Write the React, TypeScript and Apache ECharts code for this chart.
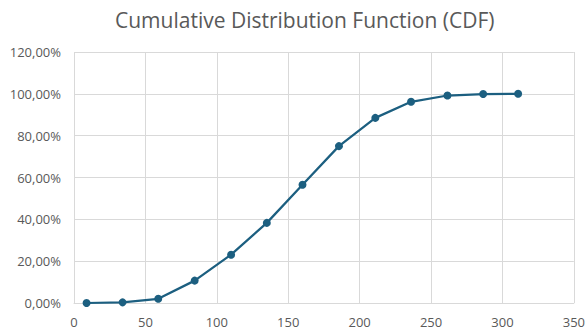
import React, { useEffect, useRef } from "react";
import * as echarts from "echarts";

const xValues = [8.8, 34, 59, 84.5, 110, 135, 160, 185.5, 211, 236, 261.5, 286.5, 311];
const cdfValues = [0.0, 0.003, 0.02, 0.107, 0.231, 0.383, 0.565, 0.75, 0.885, 0.962, 0.992, 0.999, 1.0];
const titleText = "Cumulative Distribution Function (CDF)";

export default function App() {
  const ref = useRef<HTMLDivElement>(null);
  useEffect(() => {
    const chart = echarts.init(ref.current!, undefined, { renderer: "svg" });
    const grid = "#d9d9d9";
    const txt = "#595959";
    chart.setOption({
      animation: false,
      title: {
        text: titleText,
        left: 110,
        top: 4,
        textStyle: { fontFamily: "Open Sans", fontSize: 21, fontWeight: "normal", color: txt },
      },
      grid: { left: 74, right: 12, top: 52, bottom: 29 },
      xAxis: {
        type: "value",
        min: 0,
        max: 350,
        interval: 50,
        axisLine: { show: true, lineStyle: { color: grid, width: 1 } },
        axisTick: { show: false },
        splitLine: { show: true, lineStyle: { color: grid, width: 1 } },
        axisLabel: { color: txt, fontFamily: "Open Sans", fontSize: 13, margin: 12 },
      },
      yAxis: {
        type: "value",
        min: 0,
        max: 1.2,
        interval: 0.2,
        axisLine: { show: false },
        axisTick: { show: false },
        splitLine: { show: true, lineStyle: { color: grid, width: 1 } },
        axisLabel: {
          color: txt,
          fontFamily: "Open Sans",
          fontSize: 13,
          margin: 13,
          formatter: (v: number) => (v * 100).toFixed(2).replace(".", ",") + "%",
        },
      },
      series: [
        {
          type: "line",
          data: xValues.map((x, i) => [x, cdfValues[i]]),
          symbol: "circle",
          symbolSize: 8,
          lineStyle: { color: "#1c5f80", width: 2.25 },
          itemStyle: { color: "#1c5f80" },
        },
      ],
    });
    return () => chart.dispose();
  }, []);
  return <div ref={ref} style={{ width: 588, height: 332, position: "absolute", left: 0, top: 0 }} />;
}
